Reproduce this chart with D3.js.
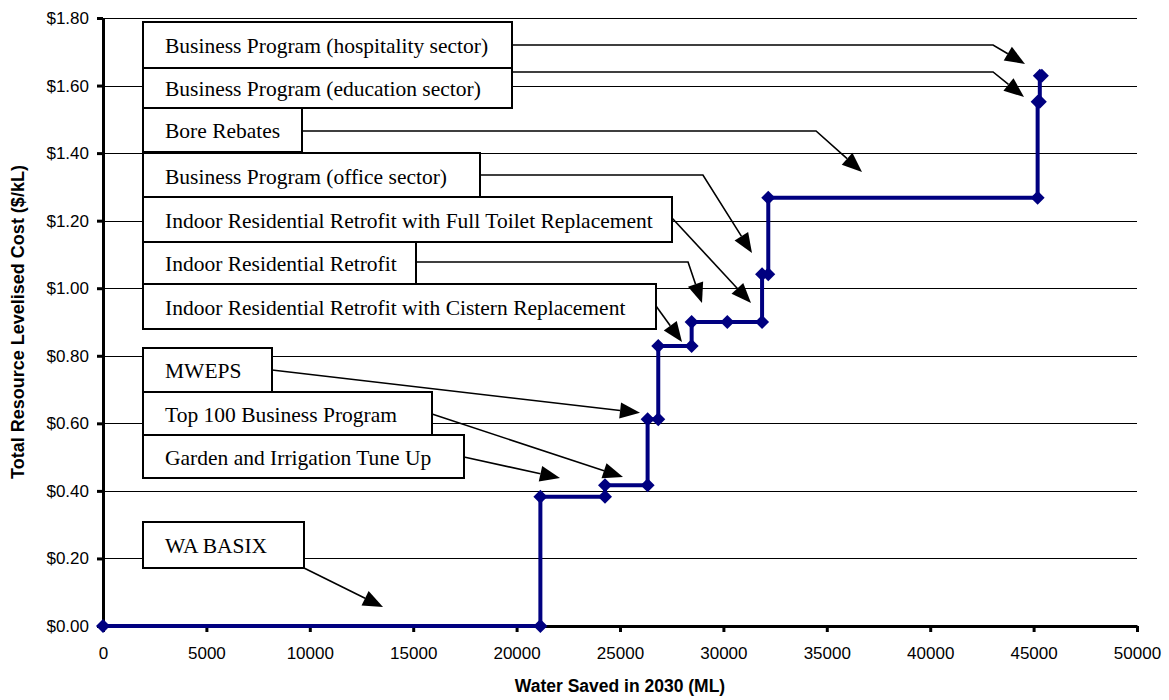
<!DOCTYPE html>
<html><head><meta charset="utf-8">
<script src="https://cdn.jsdelivr.net/npm/d3@7"></script>
<style>
html,body{margin:0;padding:0;background:#fff;}
svg{display:block;}
</style></head>
<body>
<svg id="chart" width="1169" height="700"></svg>
<script>
// ---- data ----
const savedTicks = [0,5000,10000,15000,20000,25000,30000,35000,40000,45000,50000];
const costTicks = [0,0.2,0.4,0.6,0.8,1.0,1.2,1.4,1.6,1.8];
// step curve points: water saved (ML) and levelised cost ($/kL)
const saved = [0,21150,21150,24275,24275,26335,26335,26850,26850,28465,28465,30190,31870,31870,32170,32170,45195,45195,45300,45300,45400];
const cost  = [0,0,0.383,0.383,0.417,0.417,0.612,0.612,0.829,0.829,0.900,0.900,0.900,1.041,1.041,1.268,1.268,1.552,1.552,1.629,1.629];
// annotations
const labels = [
  "Business Program (hospitality sector)",
  "Business Program (education sector)",
  "Bore Rebates",
  "Business Program (office sector)",
  "Indoor Residential Retrofit with Full Toilet Replacement",
  "Indoor Residential Retrofit",
  "Indoor Residential Retrofit with Cistern Replacement",
  "MWEPS",
  "Top 100 Business Program",
  "Garden and Irrigation Tune Up",
  "WA BASIX"
];
const targetSaved = [44584,44536,36702,31383,31335,28965,27998,25967,25145,22099,13540];
const targetCost  = [1.664,1.566,1.344,1.104,0.956,0.956,0.841,0.631,0.441,0.438,0.056];
const elbowSaved  = [43040,43040,34480,29010,null,28290,null,null,null,null,null];

// ---- layout (pixels) ----
const boxLeft = 143, textX = 165;
const boxTop    = [22, 68,108,153,197,242,284,348,392,435,522];
const boxBottom = [68,108,152,198,242,284,329,392,435,478,568];
const boxRight  = [512,512,302,480,672,416,656,272,432,464,304];
const leaderY   = [45, 72,131,175,218,262,306,370,414,457,568];

const svg = d3.select("#chart");
const x = d3.scaleLinear().domain([0,50000]).range([103,1137]);
const y = d3.scaleLinear().domain([0,1.8]).range([626,18]);

// gridlines
svg.append("g").selectAll("line").data(costTicks.filter(d=>d>0)).join("line")
  .attr("x1",x(0)).attr("x2",x(50000))
  .attr("y1",d=>Math.round(y(d))+0.5).attr("y2",d=>Math.round(y(d))+0.5)
  .attr("stroke","#000").attr("stroke-width",1);

// axes
const yAxis = svg.append("g").attr("transform",`translate(${x(0)},0)`)
  .call(d3.axisLeft(y).tickValues(costTicks).tickFormat(d=>"$"+d.toFixed(2)).tickSize(6).tickSizeOuter(0).tickPadding(8));
const xAxis = svg.append("g").attr("transform",`translate(0,${y(0)})`)
  .call(d3.axisBottom(x).tickValues(savedTicks).tickFormat(d3.format("d")).tickSize(6).tickSizeOuter(0).tickPadding(15));
[yAxis,xAxis].forEach(g=>{
  g.select(".domain").attr("stroke","#000").attr("stroke-width",3);
  g.selectAll(".tick line").attr("stroke","#000").attr("stroke-width",3);
  g.selectAll(".tick text").attr("font-family","Arial, 'Liberation Sans', sans-serif").attr("font-size",17).attr("fill","#000");
});

// axis titles
svg.append("text").attr("x",620).attr("y",692).attr("text-anchor","middle")
  .attr("font-family","Arial, 'Liberation Sans', sans-serif").attr("font-weight","bold").attr("font-size",17.5)
  .text("Water Saved in 2030 (ML)");
svg.append("text").attr("transform",`translate(24,${(y(0)+y(1.8))/2}) rotate(-90)`).attr("text-anchor","middle")
  .attr("font-family","Arial, 'Liberation Sans', sans-serif").attr("font-weight","bold").attr("font-size",18)
  .text("Total Resource Levelised Cost ($/kL)");

// series
const pts = saved.map((s,i)=>[s,cost[i]]);
svg.append("path").datum(pts)
  .attr("d",d3.line().x(d=>x(d[0])).y(d=>y(d[1])))
  .attr("fill","none").attr("stroke","#000080").attr("stroke-width",4).attr("stroke-linejoin","miter");
svg.append("g").selectAll("path").data(pts).join("path")
  .attr("transform",d=>`translate(${x(d[0])},${y(d[1])})`)
  .attr("d","M0,-7L7,0L0,7L-7,0Z").attr("fill","#000080");

// annotation boxes and arrows
const ann = svg.append("g");
labels.forEach((lab,i)=>{
  const tx = x(targetSaved[i]), ty = y(targetCost[i]);
  let start = [boxRight[i], leaderY[i]];
  const pathPts = [start];
  if (elbowSaved[i] !== null) pathPts.push([x(elbowSaved[i]), leaderY[i]]);
  const prev = pathPts[pathPts.length-1];
  const dx = tx-prev[0], dy = ty-prev[1], len = Math.hypot(dx,dy);
  const ux = dx/len, uy = dy/len, hl = 20, hw = 8;
  const bx = tx-ux*hl, by = ty-uy*hl;
  pathPts.push([bx,by]);
  ann.append("path").attr("d",d3.line()(pathPts)).attr("fill","none").attr("stroke","#000").attr("stroke-width",1.6);
  ann.append("path").attr("d",`M${tx},${ty}L${bx-uy*hw},${by+ux*hw}L${bx+uy*hw},${by-ux*hw}Z`).attr("fill","#000");
});
labels.forEach((lab,i)=>{
  ann.append("rect").attr("x",boxLeft).attr("y",boxTop[i])
    .attr("width",boxRight[i]-boxLeft).attr("height",boxBottom[i]-boxTop[i])
    .attr("fill","#fff").attr("stroke","#000").attr("stroke-width",2);
  ann.append("text").attr("x",textX).attr("y",(boxTop[i]+boxBottom[i])/2+1)
    .attr("dominant-baseline","central")
    .attr("font-family","'Times New Roman', 'Liberation Serif', serif").attr("font-size",21.5)
    .text(lab);
});
</script>
</body></html>
